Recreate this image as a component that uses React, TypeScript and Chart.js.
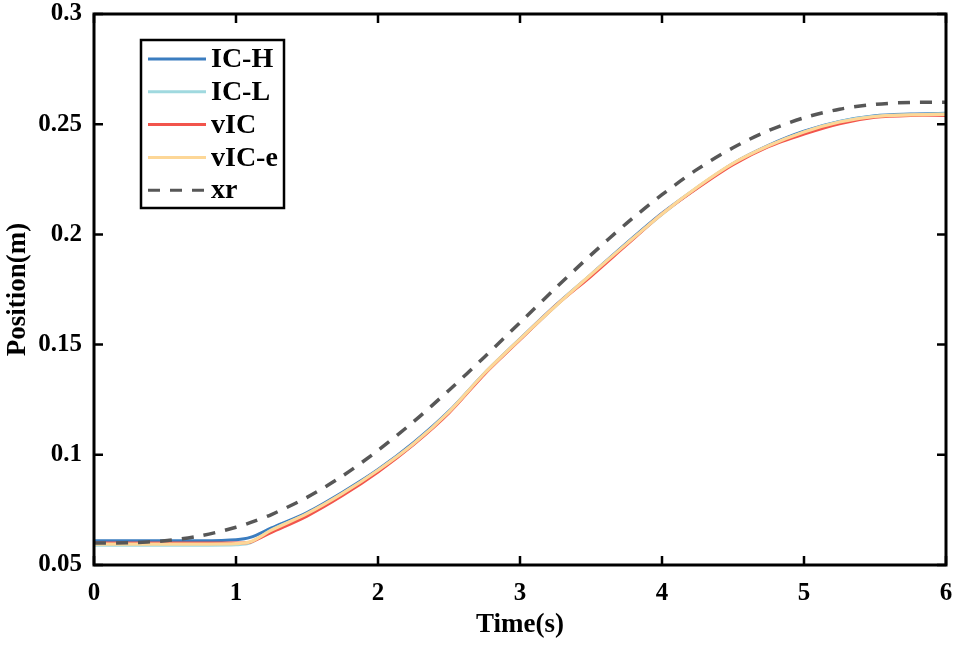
import { useEffect, useRef } from 'react'
import { Chart, registerables } from 'chart.js'

Chart.register(...registerables)

const TIME = [0, 0.25, 0.5, 0.75, 1, 1.1, 1.25, 1.5, 1.75, 2, 2.25, 2.5, 2.75, 3, 3.25, 3.5, 3.75, 4, 4.25, 4.5, 4.75, 5, 5.25, 5.5, 5.75, 6]

const IC_H = [0.0610, 0.0610, 0.0610, 0.0610, 0.0615, 0.0625, 0.0668, 0.0738, 0.0830, 0.0933, 0.1055, 0.1198, 0.1370, 0.1526, 0.1678, 0.1818, 0.1960, 0.2096, 0.2213, 0.2322, 0.2404, 0.2468, 0.2512, 0.2538, 0.2546, 0.2550]
const IC_L = [0.0590, 0.0590, 0.0590, 0.0590, 0.0592, 0.0600, 0.0660, 0.0731, 0.0823, 0.0928, 0.1048, 0.1194, 0.1368, 0.1523, 0.1674, 0.1817, 0.1955, 0.2091, 0.2214, 0.2320, 0.2401, 0.2464, 0.2511, 0.2536, 0.2543, 0.2547]
const VIC = [0.0600, 0.0600, 0.0600, 0.0600, 0.0600, 0.0603, 0.0648, 0.0722, 0.0815, 0.0922, 0.1046, 0.1190, 0.1366, 0.1522, 0.1676, 0.1810, 0.1952, 0.2093, 0.2210, 0.2316, 0.2398, 0.2455, 0.2502, 0.2531, 0.2540, 0.2540]
const VIC_E = [0.0595, 0.0595, 0.0595, 0.0595, 0.0597, 0.0605, 0.0658, 0.0733, 0.0825, 0.0930, 0.1050, 0.1195, 0.1370, 0.1525, 0.1675, 0.1818, 0.1957, 0.2093, 0.2215, 0.2322, 0.2402, 0.2465, 0.2510, 0.2535, 0.2542, 0.2545]
const XR = [0.0600, 0.0601, 0.0610, 0.0632, 0.0671, 0.0692, 0.0729, 0.0807, 0.0904, 0.1020, 0.1150, 0.1293, 0.1444, 0.1600, 0.1756, 0.1907, 0.2050, 0.2180, 0.2296, 0.2393, 0.2471, 0.2529, 0.2568, 0.2590, 0.2599, 0.2600]

const X_TICKS = [0, 1, 2, 3, 4, 5, 6]
const Y_TICKS = [0.05, 0.1, 0.15, 0.2, 0.25, 0.3]
const Y_LABELS = ['0.05', '0.1', '0.15', '0.2', '0.25', '0.3']

const SERIES = [
  { label: 'IC-H', values: IC_H, color: '#3B7DC0', order: 4, width: 3, dash: [] as number[] },
  { label: 'IC-L', values: IC_L, color: '#A0D9DF', order: 3, width: 3, dash: [] as number[] },
  { label: 'vIC', values: VIC, color: '#F2544C', order: 2, width: 3, dash: [] as number[] },
  { label: 'vIC-e', values: VIC_E, color: '#FDD797', order: 1, width: 3.2, dash: [] as number[] },
  { label: 'xr', values: XR, color: '#575757', order: 0, width: 3.5, dash: [12, 10] },
]

const FONT = "'Liberation Serif', 'Times New Roman', serif"
const TICK_LEN = 9

// box around the plot with inward tick marks on all four sides
const framePlugin = {
  id: 'frame',
  afterDatasetsDraw(chart: any) {
    const { ctx, chartArea, scales } = chart
    const { left, right, top, bottom } = chartArea
    ctx.save()
    ctx.strokeStyle = '#000'
    ctx.lineWidth = 3
    ctx.strokeRect(left, top, right - left, bottom - top)
    ctx.lineWidth = 2.5
    ctx.beginPath()
    scales.x.ticks.forEach((t: any) => {
      const px = scales.x.getPixelForValue(t.value)
      ctx.moveTo(px, bottom)
      ctx.lineTo(px, bottom - TICK_LEN)
      ctx.moveTo(px, top)
      ctx.lineTo(px, top + TICK_LEN)
    })
    scales.y.ticks.forEach((t: any) => {
      const py = scales.y.getPixelForValue(t.value)
      ctx.moveTo(left, py)
      ctx.lineTo(left + TICK_LEN, py)
      ctx.moveTo(right, py)
      ctx.lineTo(right - TICK_LEN, py)
    })
    ctx.stroke()
    ctx.restore()
  },
}

// legend box inside the upper-left corner of the plot
const legendPlugin = {
  id: 'boxLegend',
  afterDraw(chart: any) {
    const { ctx, chartArea } = chart
    const x0 = chartArea.left + 47
    const y0 = chartArea.top + 26
    const w = 143
    const h = 168
    ctx.save()
    ctx.fillStyle = '#fff'
    ctx.fillRect(x0, y0, w, h)
    ctx.strokeStyle = '#000'
    ctx.lineWidth = 2.5
    ctx.strokeRect(x0, y0, w, h)
    chart.data.datasets.forEach((ds: any, i: number) => {
      const y = y0 + 19 + i * 32.8
      ctx.strokeStyle = ds.borderColor
      ctx.lineWidth = 3
      ctx.setLineDash(ds.borderDash || [])
      ctx.beginPath()
      ctx.moveTo(x0 + 7, y)
      ctx.lineTo(x0 + 65, y)
      ctx.stroke()
      ctx.setLineDash([])
      ctx.fillStyle = '#000'
      ctx.font = `bold 28px ${FONT}`
      ctx.textBaseline = 'middle'
      ctx.textAlign = 'left'
      ctx.fillText(ds.label, x0 + 70, y + 1)
    })
    ctx.restore()
  },
}

const noEdgePadding = (scale: any) => {
  scale.paddingTop = 0
  scale.paddingBottom = 0
  scale.paddingLeft = 0
  scale.paddingRight = 0
}

export default function App() {
  const canvasRef = useRef<HTMLCanvasElement>(null)
  const chartRef = useRef<Chart | null>(null)

  useEffect(() => {
    if (!canvasRef.current) return
    if (chartRef.current) chartRef.current.destroy()

    chartRef.current = new Chart(canvasRef.current, {
      type: 'line',
      data: {
        datasets: SERIES.map((s) => ({
          label: s.label,
          data: TIME.map((t, i) => ({ x: t, y: s.values[i] })),
          borderColor: s.color,
          backgroundColor: s.color,
          borderWidth: s.width,
          borderDash: s.dash,
          pointRadius: 0,
          tension: 0.3,
          fill: false,
          order: s.order,
        })),
      },
      options: {
        animation: false,
        responsive: true,
        maintainAspectRatio: false,
        layout: { padding: { top: 14, right: 11, left: 0, bottom: 0 } },
        plugins: {
          legend: { display: false },
          tooltip: { enabled: false },
        },
        scales: {
          x: {
            type: 'linear',
            min: 0,
            max: 6,
            grid: { display: false, drawTicks: false },
            border: { display: false },
            afterBuildTicks: (scale: any) => {
              scale.ticks = X_TICKS.map((v) => ({ value: v }))
            },
            afterFit: (scale: any) => {
              scale.height = 81
              noEdgePadding(scale)
            },
            ticks: {
              color: '#000',
              padding: 14,
              maxRotation: 0,
              font: { family: FONT, size: 25, weight: 'bold' },
              callback: (v: any) => String(v),
            },
            title: {
              display: true,
              text: 'Time(s)',
              color: '#000',
              padding: { top: 0, bottom: 5 },
              font: { family: FONT, size: 27, weight: 'bold' },
            },
          },
          y: {
            type: 'linear',
            min: 0.05,
            max: 0.3,
            grid: { display: false, drawTicks: false },
            border: { display: false },
            afterBuildTicks: (scale: any) => {
              scale.ticks = Y_TICKS.map((v) => ({ value: v }))
            },
            afterFit: (scale: any) => {
              scale.width = 94
              noEdgePadding(scale)
            },
            ticks: {
              color: '#000',
              padding: 12,
              font: { family: FONT, size: 25, weight: 'bold' },
              callback: (v: any) => {
                const i = Y_TICKS.findIndex((t) => Math.abs(t - v) < 1e-6)
                return i >= 0 ? Y_LABELS[i] : ''
              },
            },
            title: {
              display: true,
              text: 'Position(m)',
              color: '#000',
              padding: { top: 2, bottom: 0 },
              font: { family: FONT, size: 27, weight: 'bold' },
            },
          },
        },
      },
      plugins: [framePlugin, legendPlugin],
    })

    return () => {
      if (chartRef.current) {
        chartRef.current.destroy()
        chartRef.current = null
      }
    }
  }, [])

  return (
    <div
      style={{
        position: 'fixed',
        left: 0,
        top: 0,
        width: 957,
        height: 646,
        background: '#fff',
      }}
    >
      <canvas ref={canvasRef} />
    </div>
  )
}
